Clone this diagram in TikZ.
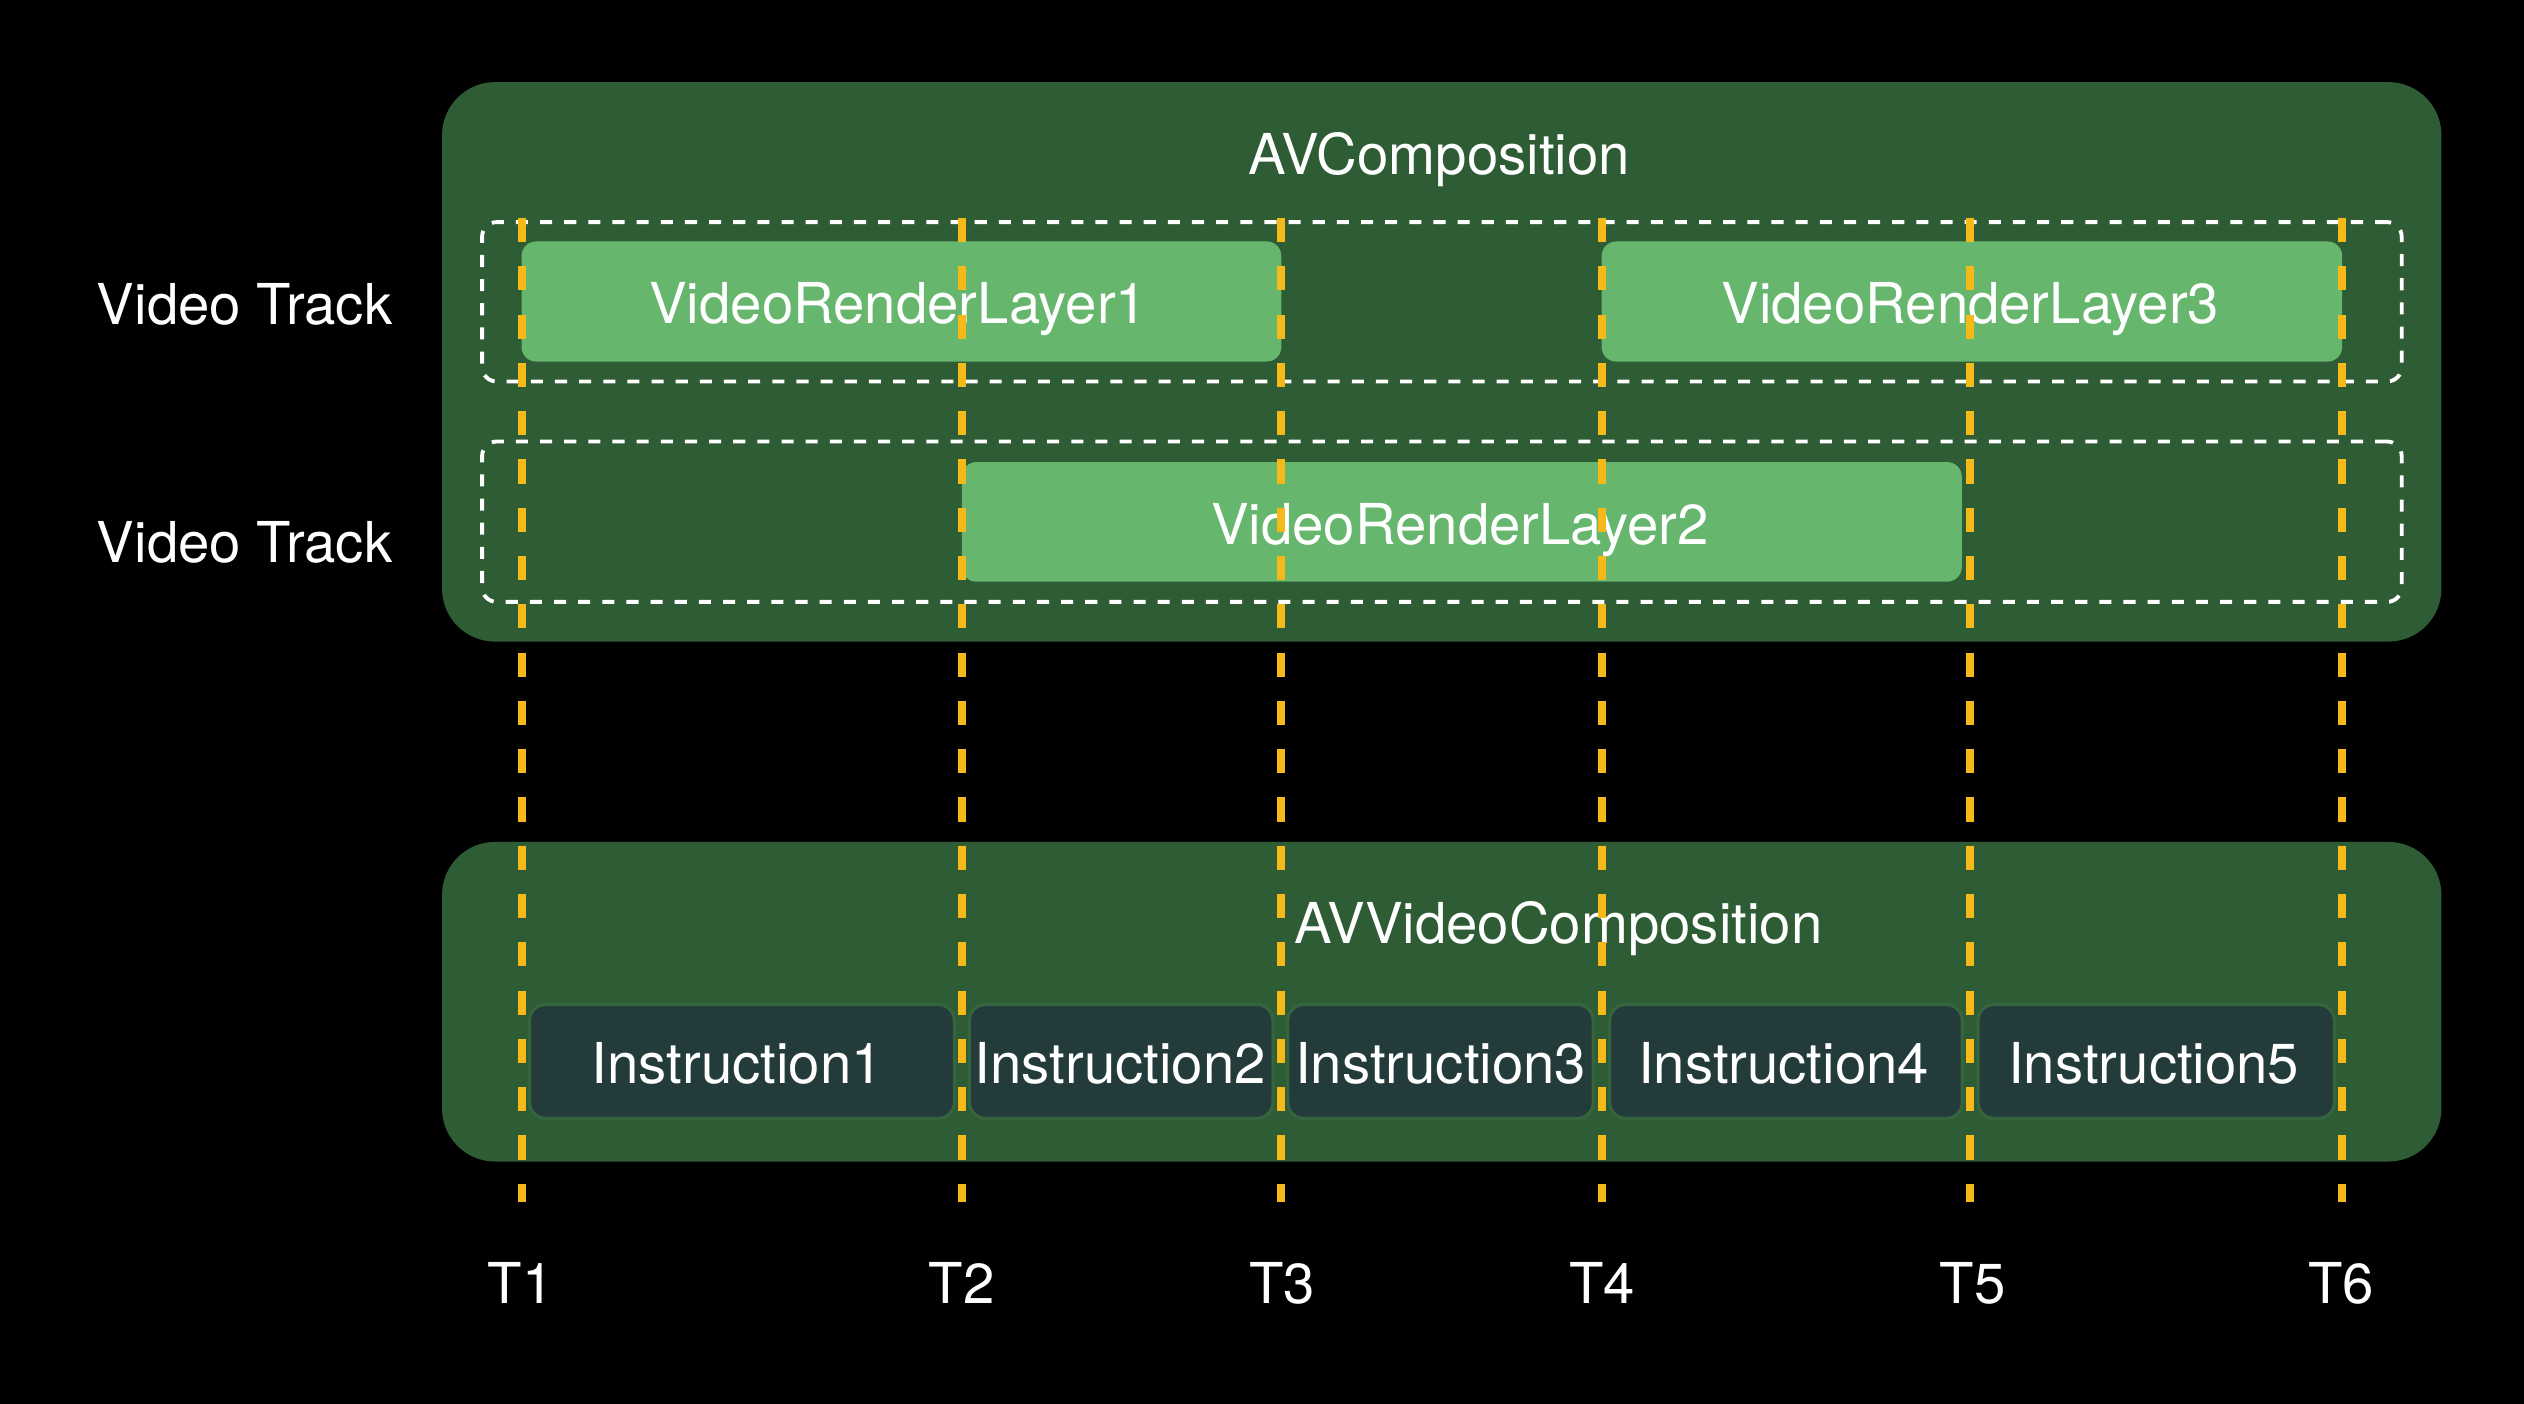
\documentclass[tikz,border=0pt]{standalone}
\usepackage{fontspec}
\setmainfont{TeX Gyre Heros}
\definecolor{cgreen}{HTML}{2E5C34}
\definecolor{lgreen}{HTML}{66B76D}
\definecolor{dteal}{HTML}{243B3C}
\definecolor{bgreen}{HTML}{36643C}
\definecolor{tyellow}{HTML}{F5BA1A}
\tikzset{
  outerbox/.style={fill=cgreen, rounded corners=16.5pt, inner sep=0pt},
  trackbox/.style={draw=white, line width=1.2pt, dash pattern=on 3.75pt off 3.75pt, rounded corners=4.5pt, inner sep=0pt},
  layerbox/.style={fill=lgreen, rounded corners=4.5pt, inner sep=0pt},
  instbox/.style={fill=dteal, draw=bgreen, line width=1pt, rounded corners=5pt, inner sep=0pt},
  tline/.style={draw=tyellow, line width=2.5pt, dash pattern=on 7.5pt off 7.5pt},
  lbl/.style={text=white, anchor=base, inner sep=0pt, font=\fontsize{17.5}{20}\selectfont},
}
\begin{document}
\begin{tikzpicture}[x=0.5pt, y=-0.5pt]
\fill[black] (0,0) rectangle (1568,872);
\useasboundingbox (0,0) rectangle (1568,872);

% outer boxes
\node[outerbox, minimum width=621.05pt, minimum height=173.8pt] (avc) at (895.65,224.8) {};
\node[outerbox, minimum width=621.05pt, minimum height=99.3pt] (avvc) at (895.65,622.3) {};

% track boxes
\node[trackbox, minimum width=596.25pt, minimum height=49.5pt] (track1) at (895.75,187.5) {};
\node[trackbox, minimum width=596.25pt, minimum height=49.8pt] (track2) at (895.75,324.1) {};

% layers
\node[layerbox, minimum width=236pt, minimum height=37.3pt] (vrl1) at (560,187.3) {};
\node[layerbox, minimum width=230pt, minimum height=37.3pt] (vrl3) at (1225,187.3) {};
\node[layerbox, minimum width=310.6pt, minimum height=37.15pt] (vrl2) at (908.1,324.2) {};

% instructions
\node[instbox, minimum width=132pt, minimum height=35.4pt] (ins1) at (460.9,659.4) {};
\node[instbox, minimum width=94.3pt, minimum height=35.4pt] (ins2) at (696.5,659.4) {};
\node[instbox, minimum width=94.9pt, minimum height=35.4pt] (ins3) at (894.9,659.4) {};
\node[instbox, minimum width=109.5pt, minimum height=35.4pt] (ins4) at (1109.5,659.4) {};
\node[instbox, minimum width=110.7pt, minimum height=35.4pt] (ins5) at (1339.5,659.4) {};

% texts
\node[lbl] (tavc) at (894,108.6) {AVComposition};
\node[lbl] (tavvc) at (968,586.4) {AVVideoComposition};
\node[lbl] (vt1) at (152,201.3) {Video Track};
\node[lbl] (vt2) at (152,349.7) {Video Track};
\node[lbl] (tvrl1) at (558,200.8) {VideoRenderLayer1};
\node[lbl] (tvrl3) at (1224,200.8) {VideoRenderLayer3};
\node[lbl] (tvrl2) at (907,338) {VideoRenderLayer2};
\node[lbl] (tins1) at (458,672.8) {Instruction1};
\node[lbl] (tins2) at (696,672.8) {Instruction2};
\node[lbl] (tins3) at (895,672.8) {Instruction3};
\node[lbl] (tins4) at (1108,672.8) {Instruction4};
\node[lbl] (tins5) at (1338,672.8) {Instruction5};

% time marks
\foreach \n/\x/\lx in {1/324.3/323.5, 2/597.5/597.5, 3/795.8/796.5, 4/995.2/995.2, 5/1223.8/1225.5, 6/1454.8/1454.5} {
  \coordinate (top\n) at (\x,135.4);
  \coordinate (bot\n) at (\x,747);
  \draw[tline] (top\n) -- (bot\n);
  \node[lbl] (t\n) at (\lx,809.6) {T\n};
}
\end{tikzpicture}
\end{document}
